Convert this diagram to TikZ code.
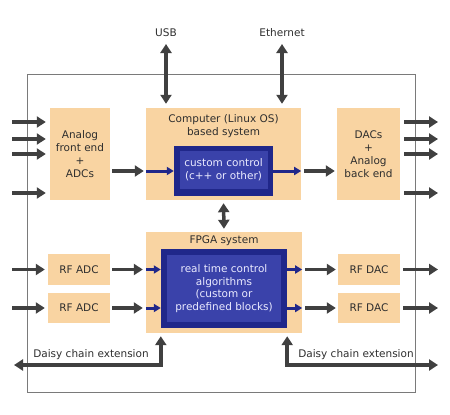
\documentclass[tikz,border=0pt]{standalone}
\usepackage{fontspec}
\setmainfont{DejaVu Sans}
\usetikzlibrary{arrows.meta}
\definecolor{peach}{HTML}{F9D4A2}
\definecolor{dblue}{HTML}{20278A}
\definecolor{lblue}{HTML}{3A42AA}
\definecolor{agray}{HTML}{404040}
\definecolor{fgray}{HTML}{7A7A7A}
\definecolor{tgray}{HTML}{2E2E2E}
\tikzset{
  pbox/.style={fill=peach, draw=none, align=center, font=\fontsize{10.5}{13}\selectfont, text=tgray, inner sep=0pt},
  bbox/.style={fill=dblue, draw=none, inner sep=0pt},
  lbox/.style={fill=lblue, draw=none, align=center, text=white!92!blue, font=\fontsize{10.5}{12.7}\selectfont, inner sep=0pt},
  garrow/.style={draw=agray, line width=3.5pt, -{Triangle[width=11pt,length=9pt]}},
  gdarrow/.style={draw=agray, line width=3.5pt, {Triangle[width=11pt,length=9pt]}-{Triangle[width=11pt,length=9pt]}},
  barrow/.style={draw=dblue, line width=3pt, -{Triangle[width=8pt,length=7pt]}},
  lbl/.style={font=\fontsize{10.5}{13}\selectfont, text=tgray, inner sep=0pt},
}
\begin{document}
\begin{tikzpicture}[x=1pt,y=-1pt]
\useasboundingbox (0,0) rectangle (450,415);
% frame
\draw[fgray, line width=1pt] (27,74) rectangle (415,392);
% boxes
\node[pbox, minimum width=60, minimum height=92] (afe) at (80,154) {Analog\\front end\\+\\ADCs};
\node[pbox, minimum width=155, minimum height=92] (comp) at (223.5,154) {};
\node[lbl, align=center] (comptitle) at (223.5,126.5) {Computer (Linux OS)\\based system};
\node[bbox, minimum width=99, minimum height=50] (cust) at (223.5,171) {};
\node[lbox, minimum width=88, minimum height=38] (custin) at (223.5,170) {custom control\\(c++ or other)};
\node[pbox, minimum width=63, minimum height=92] (dac) at (368.5,154) {DACs\\+\\Analog\\back end};
\node[pbox, minimum width=156, minimum height=101] (fpga) at (224,282.5) {};
\node[lbl] (fpgatitle) at (224,240.5) {FPGA system};
\node[bbox, minimum width=126, minimum height=79] (rt) at (224,288.5) {};
\node[lbox, minimum width=114, minimum height=67] (rtin) at (224,288.5) {real time control\\algorithms\\(custom or\\predefined blocks)};
\node[pbox, minimum width=62, minimum height=31] (adc1) at (79,269.5) {RF ADC};
\node[pbox, minimum width=62, minimum height=30] (adc2) at (79,308) {RF ADC};
\node[pbox, minimum width=62, minimum height=31] (dac1) at (369,269.5) {RF DAC};
\node[pbox, minimum width=62, minimum height=30] (dac2) at (369,308) {RF DAC};
% labels
\node[lbl] (usb) at (166,33) {USB};
\node[lbl] (eth) at (282,33) {Ethernet};
\node[lbl] (dcl) at (91,355) {Daisy chain extension};
\node[lbl] (dcr) at (356,355) {Daisy chain extension};
% free ends
\coordinate (usbtop) at (166,44);
\coordinate (ethtop) at (282,44);
\foreach \i/\y in {1/122,2/139,3/154,4/193}{
  \coordinate (inL\i) at (12,\y);
  \coordinate (outR\i) at (438,\y);
}
\coordinate (adcin1) at (12,269.5);
\coordinate (adcin2) at (12,308);
\coordinate (dacout1) at (438,269.5);
\coordinate (dacout2) at (438,308);
\coordinate (dclend) at (14,365);
\coordinate (dcrend) at (438,365);
% top double arrows
\draw[gdarrow, shorten >=4pt] (usbtop) -- (usbtop |- comp.north);
\draw[gdarrow, shorten >=4pt] (ethtop) -- (ethtop |- comp.north);
% analog inputs / outputs
\foreach \i in {1,2,3,4}{
  \draw[garrow, shorten >=4pt] (inL\i) -- (inL\i -| afe.west);
  \draw[garrow, shorten <=4pt] (outR\i -| dac.east) -- (outR\i);
}
% computer chain
\draw[garrow, shorten <=2pt, shorten >=2pt] (afe.east |- cust.west) -- (comp.west |- cust.west);
\draw[barrow] (comp.west |- cust.west) -- (cust.west);
\draw[barrow] (cust.east) -- (comp.east |- cust.east);
\draw[garrow, shorten <=3pt, shorten >=2pt] (comp.east |- cust.east) -- (dac.west |- cust.east);
% computer <-> fpga
\draw[gdarrow, shorten <=3pt, shorten >=3pt] (comp.south) -- (fpga.north);
% rf adc
\draw[garrow, shorten >=3pt] (adcin1) -- (adc1.west);
\draw[garrow, shorten >=3pt] (adcin2) -- (adc2.west);
\draw[garrow, shorten <=2pt, shorten >=3pt] (adc1.east) -- (fpga.west |- adc1.east);
\draw[garrow, shorten <=2pt, shorten >=3pt] (adc2.east) -- (fpga.west |- adc2.east);
\draw[barrow] (fpga.west |- adc1.east) -- (rt.west |- adc1.east);
\draw[barrow] (fpga.west |- adc2.east) -- (rt.west |- adc2.east);
% rf dac
\draw[barrow] (rt.east |- dac1.west) -- (fpga.east |- dac1.west);
\draw[barrow] (rt.east |- dac2.west) -- (fpga.east |- dac2.west);
\draw[garrow, shorten <=3pt, shorten >=2pt] (fpga.east |- dac1.west) -- (dac1.west);
\draw[garrow, shorten <=3pt, shorten >=2pt] (fpga.east |- dac2.west) -- (dac2.west);
\draw[garrow, shorten <=3pt] (dac1.east) -- (dacout1);
\draw[garrow, shorten <=3pt] (dac2.east) -- (dacout2);
% daisy chain
\draw[draw=agray, line width=3.5pt, {Triangle[width=11pt,length=9pt]}-{Triangle[width=11pt,length=9pt]}, shorten >=3pt, line join=miter] (dclend) -| (fpga.south -| rt.west);
\draw[draw=agray, line width=3.5pt, {Triangle[width=11pt,length=9pt]}-{Triangle[width=11pt,length=9pt]}, shorten >=3pt, line join=miter] (dcrend) -| (fpga.south -| rt.east);
\end{tikzpicture}
\end{document}
